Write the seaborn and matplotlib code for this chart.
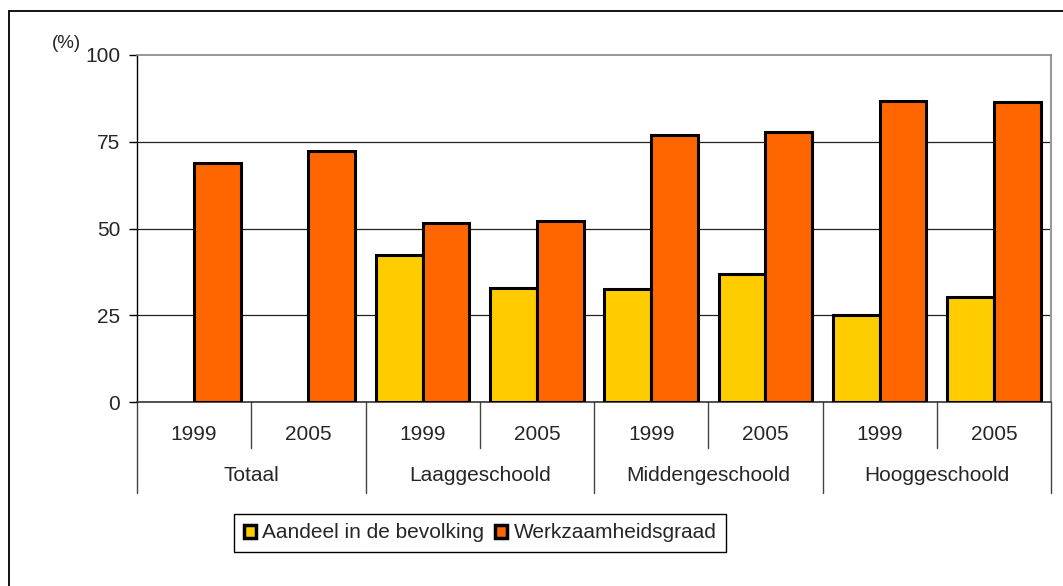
import pandas as pd
import matplotlib.pyplot as plt
import seaborn as sns
from matplotlib.patches import Patch
from matplotlib.lines import Line2D
import matplotlib.transforms as mtransforms

sns.set_theme(style="white")
plt.rcParams['font.family'] = ['Liberation Sans', 'DejaVu Sans']

# data
groups = ["Totaal", "Laaggeschoold", "Middengeschoold", "Hooggeschoold"]
years = ["1999", "2005"]
aandeel = [None, None, 42.3, 32.8, 32.7, 37.0, 25.1, 30.2]
werkzaam = [68.9, 72.2, 51.6, 52.2, 76.9, 77.8, 86.8, 86.4]
series = ["Aandeel in de bevolking", "Werkzaamheidsgraad"]
colors = ["#FFCC00", "#FF6600"]

cats = [g + " " + y for g in groups for y in years]
df = pd.DataFrame({
    "cat": cats * 2,
    "serie": [series[0]] * 8 + [series[1]] * 8,
    "value": aandeel + werkzaam,
}).dropna()

fig = plt.figure(figsize=(10.63, 5.86), dpi=100)
ax = fig.add_axes([137 / 1063, 1 - 402 / 586, (1051 - 137) / 1063, 347 / 586])

sns.barplot(data=df, x="cat", y="value", hue="serie", order=cats,
            hue_order=series, palette=colors, saturation=1, width=0.82,
            edgecolor="black", linewidth=2.2, errorbar=None, ax=ax,
            legend=False, zorder=3)

ax.set_xlim(-0.5, 7.5)
ax.set_ylim(0, 100)
ax.set_yticks([0, 25, 50, 75, 100])
ax.set_yticklabels(["0", "25", "50", "75", "100"], fontsize=15)
ax.tick_params(axis="y", length=6, width=1, color="black", direction="out",
               left=True, pad=6)
ax.set_xticks([])
ax.set_xlabel("")
ax.set_ylabel("")
for v in [25, 50, 75]:
    ax.axhline(v, color="#222222", lw=0.9, zorder=1)

ax.spines["left"].set_color("black")
ax.spines["left"].set_linewidth(1)
ax.spines["bottom"].set_color("#333333")
ax.spines["bottom"].set_linewidth(1.2)
ax.spines["top"].set_color("#888888")
ax.spines["top"].set_linewidth(1.2)
ax.spines["right"].set_color("#999999")
ax.spines["right"].set_linewidth(1.5)

# category axis with two levels
trans = mtransforms.blended_transform_factory(ax.transData, ax.transAxes)
for i in range(len(cats)):
    ax.text(i, -0.095, years[i % 2], transform=trans, ha="center",
            va="center", fontsize=15, clip_on=False)
for i, g in enumerate(groups):
    ax.text(2 * i + 0.5, -0.213, g, transform=trans, ha="center",
            va="center", fontsize=15, clip_on=False)
for x in [0.5, 2.5, 4.5, 6.5]:
    ax.plot([x, x], [0, -0.133], transform=trans, color="#444444", lw=1,
            clip_on=False)
for x in [-0.5, 1.5, 3.5, 5.5, 7.5]:
    ax.plot([x, x], [0, -0.262], transform=trans, color="#444444", lw=1,
            clip_on=False)

fig.text(66 / 1063, 1 - 44 / 586, "(%)", ha="center", va="center",
         fontsize=13.5)

handles = [Patch(facecolor=c, edgecolor="black", linewidth=2.5) for c in colors]
fig.legend(handles, series, loc="center", bbox_to_anchor=(480 / 1063, 1 - 533 / 586),
           ncol=2, fontsize=15, frameon=True, fancybox=False,
           edgecolor="black", handlelength=0.6, handleheight=0.6,
           handletextpad=0.3, columnspacing=0.5, borderpad=0.45,
           framealpha=1)
leg = fig.legends[0]
leg.get_frame().set_linewidth(1)

# outer chart border
fig.add_artist(Line2D([8.5 / 1063, 1], [1 - 10.5 / 586, 1 - 10.5 / 586],
                      color="black", lw=1.3))
fig.add_artist(Line2D([8.5 / 1063, 8.5 / 1063], [0, 1 - 10.5 / 586],
                      color="black", lw=1.3))

fig.savefig("out.png", dpi=100, facecolor="white")
